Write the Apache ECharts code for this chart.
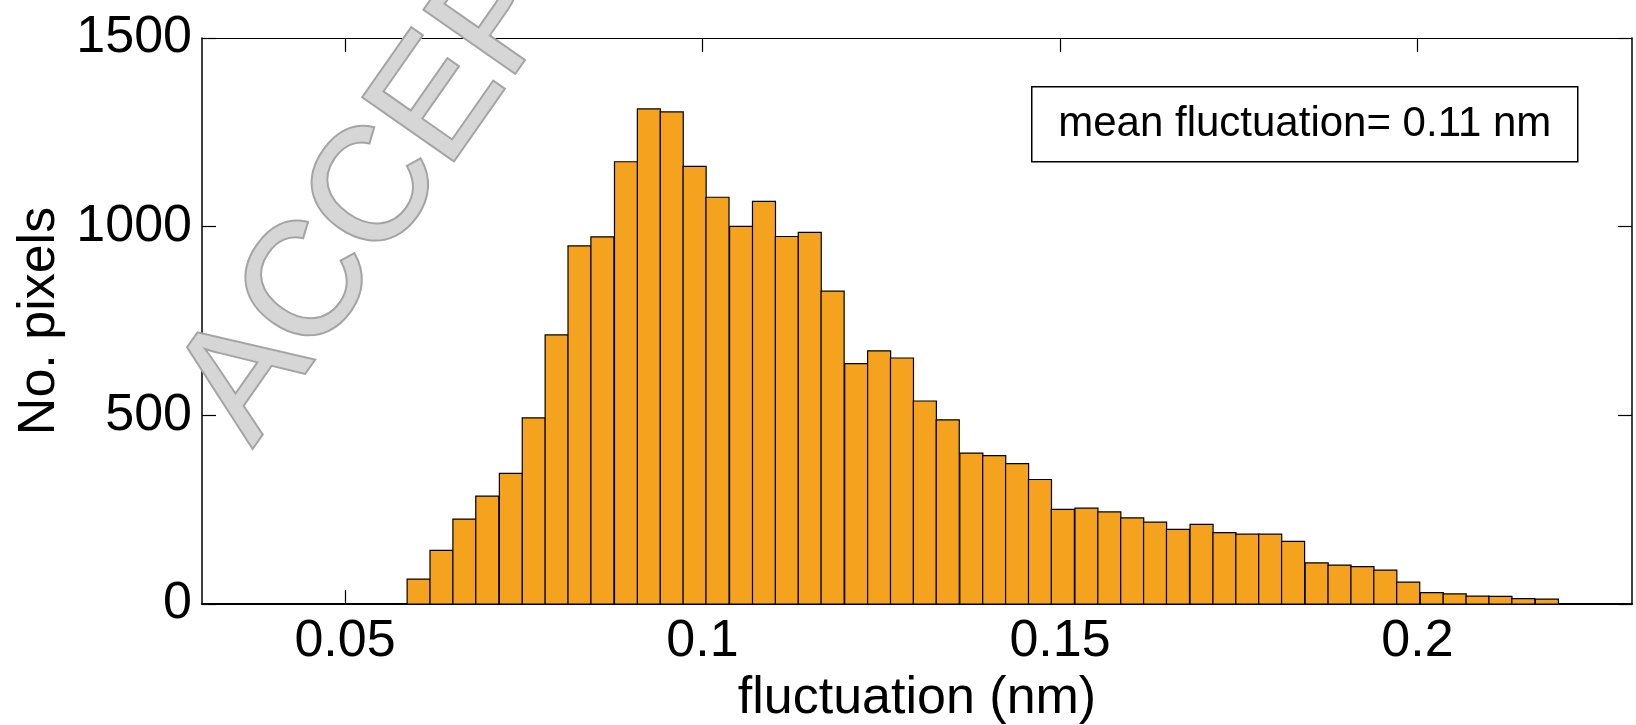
<!DOCTYPE html>
<html>
<head>
<meta charset="utf-8">
<script src="https://cdn.jsdelivr.net/npm/echarts@6/dist/echarts.min.js"></script>
<style>
html,body{margin:0;padding:0;background:#fff;}
#chart{width:1636px;height:725px;}
</style>
</head>
<body>
<div id="chart"></div>
<script>
// Histogram bin centres (nm)
const binCenters = [
  0.0603, 0.0635, 0.0667, 0.0699, 0.0732, 0.0764, 0.0796, 0.0828, 0.0860, 0.0893,
  0.0925, 0.0957, 0.0989, 0.1021, 0.1054, 0.1086, 0.1118, 0.1150, 0.1182, 0.1215,
  0.1247, 0.1279, 0.1311, 0.1343, 0.1376, 0.1408, 0.1440, 0.1472, 0.1504, 0.1537,
  0.1569, 0.1601, 0.1633, 0.1665, 0.1698, 0.1730, 0.1762, 0.1794, 0.1826, 0.1859,
  0.1891, 0.1923, 0.1955, 0.1987, 0.2020, 0.2052, 0.2084, 0.2116, 0.2148, 0.2181
];
const binWidth = 0.00322;
// Counts (No. pixels)
const counts = [
  66, 142, 225, 286, 346, 493, 713, 949, 973, 1172,
  1312, 1304, 1160, 1078, 1001, 1067, 974, 985, 829, 637,
  671, 652, 538, 488, 400, 393, 372, 330, 251, 254,
  244, 228, 217, 198, 211, 189, 185, 185, 166, 109,
  103, 99, 90, 58, 30, 27, 21, 20, 14, 13
];
const xTicks = [0.05, 0.1, 0.15, 0.2];
const yTicks = [0, 500, 1000, 1500];
const xTitle = 'fluctuation (nm)';
const yTitle = 'No. pixels';
const annotation = 'mean fluctuation= 0.11 nm';
const watermark = 'ACCEPTED';

const FONT = '"Liberation Sans", Arial, Helvetica, sans-serif';
const chart = echarts.init(document.getElementById('chart'), null, {renderer: 'canvas'});

const data = binCenters.map((c, i) => [c, counts[i]]);

const lineStyle = {color: '#000', width: 1.5};
const WM_ANGLE = 55 * Math.PI / 180;

chart.setOption({
  animation: false,
  backgroundColor: '#fff',
  grid: {left: 202, right: 4, top: 38, bottom: 121, containLabel: false, outerBoundsMode: 'none'},
  xAxis: [{
    type: 'value', min: 0.03, max: 0.23, position: 'bottom',
    axisLine: {show: true, onZero: false, lineStyle: {color: '#000', width: 2}},
    axisTick: {show: true, inside: true, length: 14, customValues: xTicks, lineStyle: {color: '#000', width: 1.2}},
    axisLabel: {show: true, customValues: xTicks, margin: 12, fontSize: 52, fontFamily: FONT, color: '#000',
      formatter: v => String(+v.toFixed(2))},
    splitLine: {show: false},
    name: xTitle, nameLocation: 'middle', nameGap: 64,
    nameTextStyle: {fontSize: 52, fontFamily: FONT, color: '#000'}
  }, {
    type: 'value', min: 0.03, max: 0.23, position: 'top',
    axisLine: {show: true, onZero: false, lineStyle: {color: '#000', width: 1.2}},
    axisTick: {show: true, inside: true, length: 14, customValues: xTicks, lineStyle: {color: '#000', width: 1.2}},
    axisLabel: {show: false, customValues: xTicks},
    splitLine: {show: false}
  }],
  yAxis: [{
    type: 'value', min: 0, max: 1500, interval: 500, position: 'left',
    axisLine: {show: true, onZero: false, lineStyle: lineStyle},
    axisTick: {show: true, inside: true, length: 14, lineStyle: {color: '#000', width: 1.2}},
    axisLabel: {show: true, margin: 10, fontSize: 52, fontFamily: FONT, color: '#000',
      formatter: v => String(v)},
    splitLine: {show: false},
    name: yTitle, nameLocation: 'middle', nameGap: 132,
    nameTextStyle: {fontSize: 52, fontFamily: FONT, color: '#000'}
  }, {
    type: 'value', min: 0, max: 1500, interval: 500, position: 'right',
    axisLine: {show: true, onZero: false, lineStyle: lineStyle},
    axisTick: {show: true, inside: true, length: 14, lineStyle: {color: '#000', width: 1.2}},
    axisLabel: {show: false},
    splitLine: {show: false}
  }],
  graphic: [{
    type: 'text', z: 50, silent: true,
    x: 282, y: 468, rotation: WM_ANGLE,
    style: {
      text: watermark, font: '160px ' + FONT,
      fill: '#d6d6d6', stroke: '#a4a4a4', lineWidth: 4,
      verticalAlign: 'bottom', align: 'left',
      shadowColor: 'rgba(0,0,0,0.35)', shadowBlur: 6, shadowOffsetX: 3, shadowOffsetY: 3
    }
  }, {
    type: 'group', left: 1031, top: 86, z: 100,
    children: [{
      type: 'rect', shape: {x: 0, y: 0, width: 546, height: 75},
      style: {fill: '#fff', stroke: '#000', lineWidth: 1.5}
    }, {
      type: 'text', x: 273, y: 38,
      style: {text: annotation, font: '42px ' + FONT, fill: '#000', align: 'center', verticalAlign: 'middle'}
    }]
  }],
  series: [{
    type: 'custom',
    xAxisIndex: 0, yAxisIndex: 0,
    encode: {x: 0, y: 1},
    data: data,
    z: 2,
    renderItem: function (params, api) {
      const c = api.value(0), v = api.value(1);
      const p0 = api.coord([c - binWidth / 2, 0]);
      const p1 = api.coord([c + binWidth / 2, v]);
      return {
        type: 'rect',
        shape: {x: p0[0], y: p1[1], width: p1[0] - p0[0], height: p0[1] - p1[1]},
        style: {fill: '#F5A21E', stroke: '#000', lineWidth: 1.2}
      };
    }
  }]
});
</script>
</body>
</html>
